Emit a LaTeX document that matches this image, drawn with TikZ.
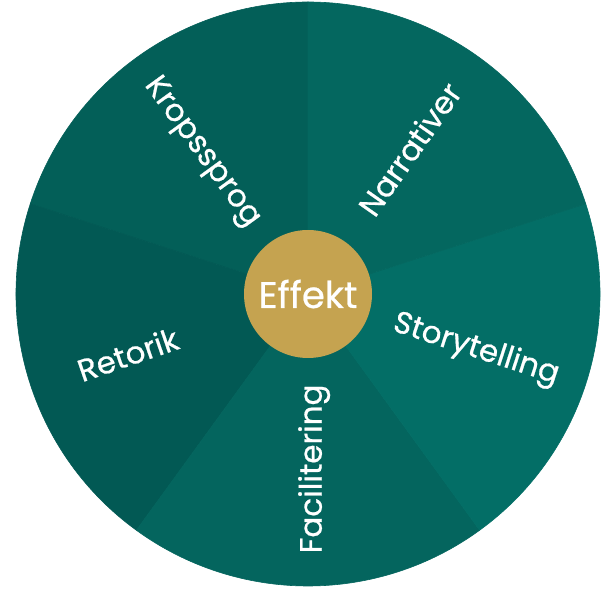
\documentclass[tikz,border=0pt]{standalone}
\usepackage{fontspec}
\setmainfont{Poppins}
\newfontfamily\labelfont{Poppins}[FakeBold=0.6]
\usetikzlibrary{calc}
\definecolor{c_krop}{HTML}{035F58}
\definecolor{c_narr}{HTML}{04675F}
\definecolor{c_story}{HTML}{036E66}
\definecolor{c_fac}{HTML}{04655E}
\definecolor{c_ret}{HTML}{025954}
\definecolor{c_gold}{HTML}{C5A350}
\tikzset{SECTOR/.style={line width=0.6pt, line join=round}}
\tikzset{LABEL/.style={text=white, inner sep=0pt, font=\labelfont\fontsize{31}{36}\selectfont}}
\tikzset{HUB/.style={circle, fill=c_gold, minimum size=128pt, inner sep=0pt, text=white, font=\labelfont\fontsize{37}{40}\selectfont}}

\begin{document}
\begin{tikzpicture}[x=1pt,y=1pt]
\useasboundingbox (0,0) rectangle (613,589);

\coordinate (c_center) at (308,295);

\filldraw[SECTOR, fill=c_krop, draw=c_krop] (c_center) -- ($(c_center)+(90:292)$) arc[start angle=90, end angle=162, radius=292] -- cycle;
\filldraw[SECTOR, fill=c_ret, draw=c_ret] (c_center) -- ($(c_center)+(162:292)$) arc[start angle=162, end angle=234, radius=292] -- cycle;
\filldraw[SECTOR, fill=c_fac, draw=c_fac] (c_center) -- ($(c_center)+(234:292)$) arc[start angle=234, end angle=306, radius=292] -- cycle;
\filldraw[SECTOR, fill=c_story, draw=c_story] (c_center) -- ($(c_center)+(306:292)$) arc[start angle=306, end angle=378, radius=292] -- cycle;
\filldraw[SECTOR, fill=c_narr, draw=c_narr] (c_center) -- ($(c_center)+(18:292)$) arc[start angle=18, end angle=90, radius=292] -- cycle;

\node[HUB] (n_effekt) at (c_center) {Effekt};

\node[LABEL, rotate=-54] (n_krop) at ($(c_center)+(127:177)$) {Kropssprog};
\node[LABEL, rotate=55] (n_narr) at ($(c_center)+(55:177)$) {Narrativer};
\node[LABEL, rotate=-18] (n_story) at ($(c_center)+(-18.4:177)$) {Storytelling};
\node[LABEL, rotate=90] (n_fac) at ($(c_center)+(-88:175)$) {Facilitering};
\node[LABEL, rotate=19] (n_ret) at ($(c_center)+(198.5:190)$) {Retorik};

\end{tikzpicture}
\end{document}
